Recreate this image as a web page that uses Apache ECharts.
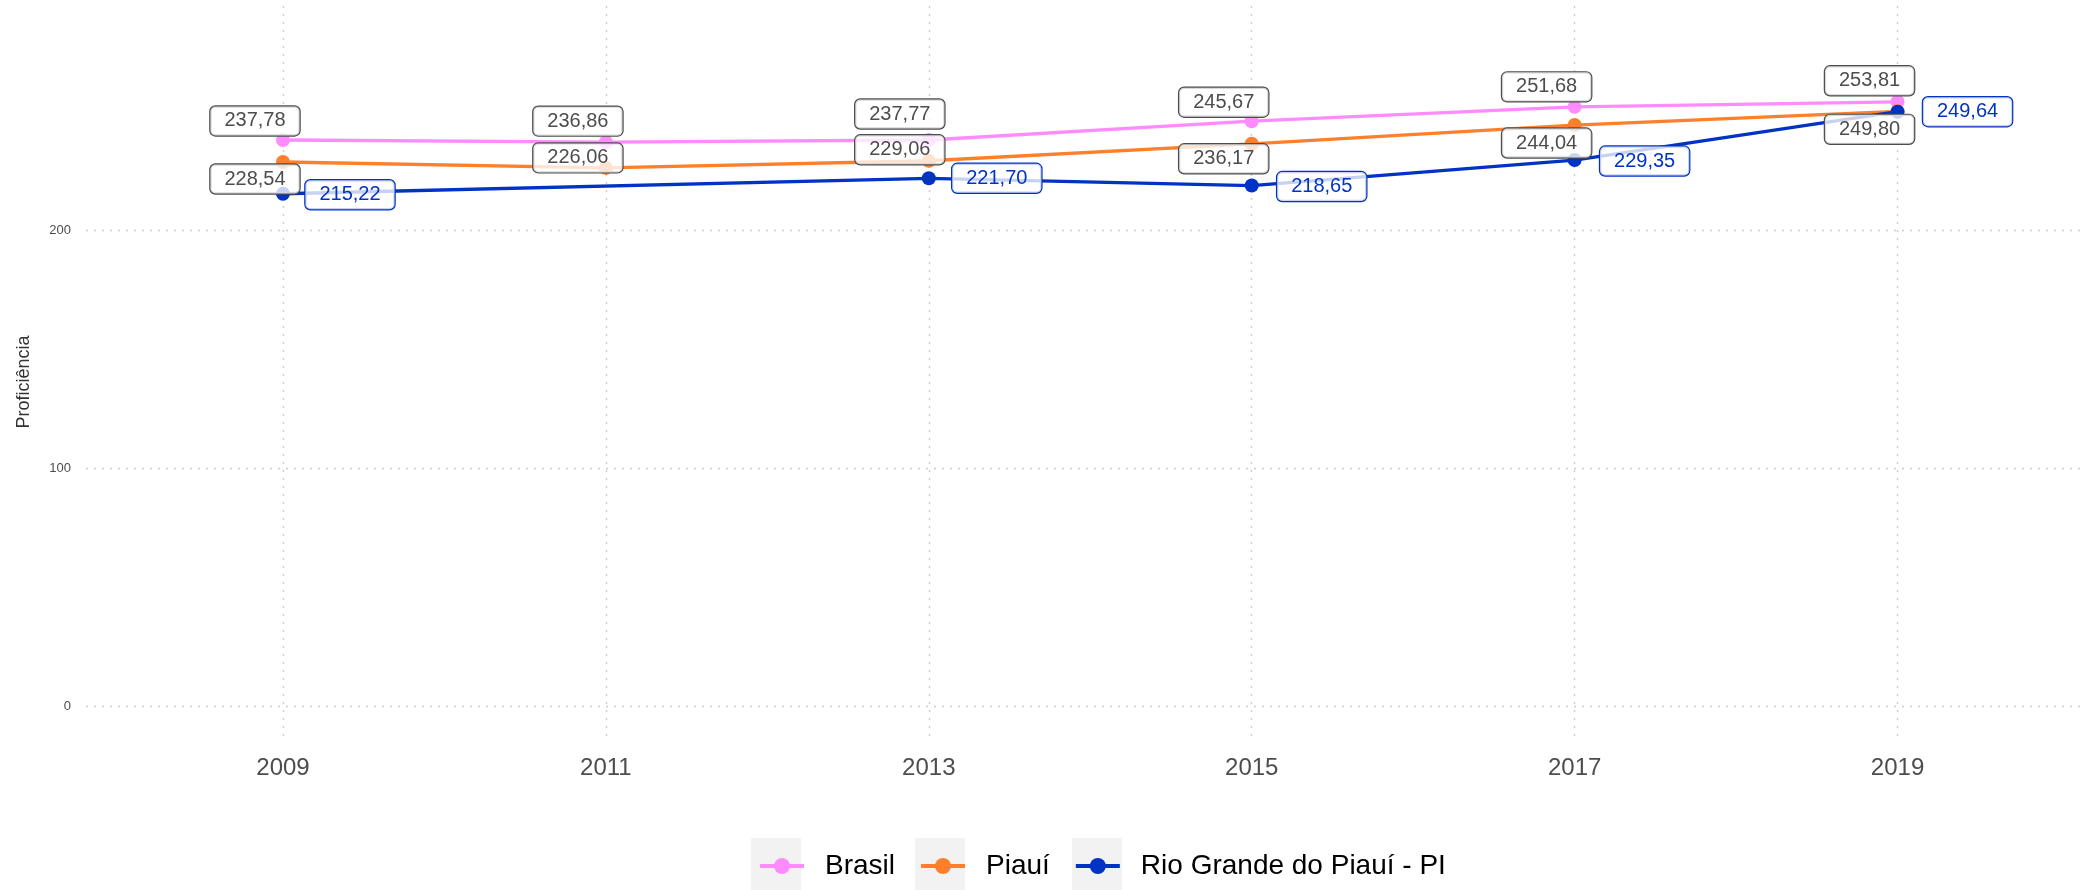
<!DOCTYPE html>
<html>
<head>
<meta charset="utf-8">
<script src="https://cdn.jsdelivr.net/npm/echarts@6/dist/echarts.min.js"></script>
<style>
  html, body { margin: 0; padding: 0; background: #fff; }
  #chart { width: 2080px; height: 890px; }
</style>
</head>
<body>
<div id="chart"></div>
<script>
const years = [2009, 2011, 2013, 2015, 2017, 2019]
const brasil = [237.78, 236.86, 237.77, 245.67, 251.68, 253.81]
const piaui = [228.54, 226.06, 229.06, 236.17, 244.04, 249.80]
const rioGrande = [215.22, null, 221.70, 218.65, 229.35, 249.64]
const yTicks = [0, 100, 200]

// rough placement of the repelled labels (px, from point centre)
const brasilLabelOffsets = [[-28, -19], [-28, -21], [-29, -26], [-28, -19], [-28, -20], [-28, -21]]
const piauiLabelOffsets = [[-28, 17], [-28, -10], [-29, -11], [-28, 15], [-28, 18], [-28, 18]]
const rioLabelOffsets = [[67, 1], null, [68, 0], [70, 1], [70, 1], [70, 0]]

const COLORS = {
  brasil: '#ff8cff',
  piaui: '#ff7f2a',
  rio: '#0033c4',
}

const fmt = (v) => v.toFixed(2).replace('.', ',')

function makeSeries(name, values, offsets, color, labelColor) {
  return {
    name,
    type: 'line',
    connectNulls: true,
    symbol: 'circle',
    symbolSize: 14,
    lineStyle: { color, width: 3.3 },
    itemStyle: { color },
    data: values.map((v, i) => ({
      value: [years[i], v == null ? '-' : v],
      label: offsets[i] ? { offset: offsets[i] } : { show: false },
    })),
    label: {
      show: true,
      position: 'inside',
      formatter: (p) => fmt(p.value[1]),
      fontFamily: 'Liberation Sans',
      fontSize: 20,
      color: labelColor,
      backgroundColor: 'rgba(255,255,255,0.78)',
      borderColor: labelColor,
      borderWidth: 1.2,
      borderRadius: 5,
      padding: [5, 14, 4, 14],
    },
    z: 2,
  }
}

const chart = echarts.init(document.getElementById('chart'))

chart.setOption({
  animation: false,
  backgroundColor: '#fff',
  textStyle: { fontFamily: 'Liberation Sans' },
  grid: { left: 86, right: 0, top: 6, bottom: 150 },
  xAxis: {
    type: 'value',
    min: 2007.78,
    max: 2020.13,
    axisLine: { show: false },
    axisTick: { show: false, customValues: years },
    axisLabel: {
      customValues: years,
      formatter: (v) => String(v),
      fontSize: 24,
      color: '#4d4d4d',
      margin: 16,
    },
    splitLine: { show: true, lineStyle: { color: '#cccccc', type: [2, 6], width: 1.4 } },
  },
  yAxis: {
    type: 'value',
    min: -14,
    max: 294,
    name: 'Proficiência',
    nameLocation: 'middle',
    nameRotate: 90,
    nameGap: 53,
    nameTextStyle: { fontSize: 18, color: '#333', padding: [0, 18, 0, 0] },
    axisLine: { show: false },
    axisTick: { show: false, customValues: yTicks },
    axisLabel: {
      customValues: yTicks,
      fontSize: 13,
      color: '#4d4d4d',
      margin: 15,
    },
    splitLine: { show: true, lineStyle: { color: '#cccccc', type: [2, 6], width: 1.4 } },
  },
  legend: {
    left: 753,
    top: 847,
    itemWidth: 44,
    itemHeight: 20,
    itemGap: 24,
    lineStyle: { width: 4 },
    textStyle: { fontSize: 28, color: '#000', padding: [0, 0, 0, 16] },
    data: ['Brasil', 'Piauí', 'Rio Grande do Piauí - PI'],
  },
  graphic: [751, 915, 1072].map((x) => ({
    type: 'rect',
    left: x,
    top: 838,
    shape: { width: 50, height: 52 },
    style: { fill: '#f2f2f2' },
    z: -1,
  })),
  series: [
    makeSeries('Brasil', brasil, brasilLabelOffsets, COLORS.brasil, '#4d4d4d'),
    makeSeries('Piauí', piaui, piauiLabelOffsets, COLORS.piaui, '#4d4d4d'),
    makeSeries('Rio Grande do Piauí - PI', rioGrande, rioLabelOffsets, COLORS.rio, COLORS.rio),
  ],
})
</script>
</body>
</html>
